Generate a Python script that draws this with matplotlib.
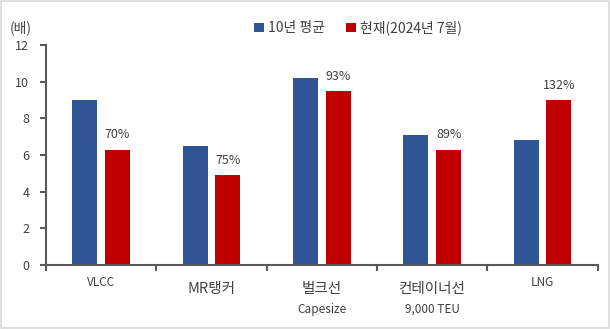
import matplotlib.pyplot as plt
import matplotlib.transforms as mtransforms
from matplotlib.patches import Rectangle
import numpy as np

plt.rcParams['font.family'] = ['Noto Sans CJK KR', 'DejaVu Sans']

# data
categories = ['VLCC', 'MR탱커', '벌크선', '컨테이너선', 'LNG']
sub_labels = ['', '', 'Capesize', '9,000 TEU', '']
avg_10y = [9.0, 6.5, 10.2, 7.1, 6.8]
current = [6.3, 4.9, 9.5, 6.3, 9.0]
pct_labels = ['70%', '75%', '93%', '89%', '132%']

blue = '#2F5597'
red = '#C00000'
axis_col = '#595959'
txt_col = '#404040'

fig = plt.figure(figsize=(6.10, 3.29), dpi=100)
ax = fig.add_axes([0.0754, 0.1945, 0.9046, 0.6685])

x = np.arange(len(categories))
w = 0.226
off = 0.148
ax.bar(x - off, avg_10y, width=w, color=blue, label='10년 평균')
ax.bar(x + off, current, width=w, color=red, label='현재(2024년 7월)')

for xi, v, s in zip(x, current, pct_labels):
    ax.annotate(s, (xi + off, v), xytext=(0, 6), textcoords='offset points',
                ha='center', va='bottom', fontsize=9, color=txt_col)

ax.set_xlim(-0.5, len(categories) - 0.5)
ax.set_ylim(0, 12)
ax.set_yticks(np.arange(0, 13, 2))
ax.tick_params(axis='y', labelsize=9, colors=txt_col, length=4, width=1.5,
               color=axis_col, pad=8)

# tick marks between categories, labels placed by hand
ax.set_xticks(np.arange(-0.5, len(categories), 1))
ax.set_xticklabels([])
ax.tick_params(axis='x', length=4, width=1.5, color=axis_col, direction='out')

trans = mtransforms.blended_transform_factory(ax.transData, fig.transFigure)
for xi, c, s in zip(x, categories, sub_labels):
    if c in ('VLCC', 'LNG'):
        ax.text(xi, 1 - 283 / 329, c, transform=trans, ha='center', va='center',
                fontsize=8.5, color=txt_col)
    else:
        ax.text(xi, 1 - 289 / 329, c, transform=trans, ha='center', va='center',
                fontsize=10.5, color=txt_col)
    if s:
        ax.text(xi, 1 - 309 / 329, s, transform=trans, ha='center', va='center',
                fontsize=8.5, color=txt_col)

for side in ['top', 'right']:
    ax.spines[side].set_visible(False)
for side in ['left', 'bottom']:
    ax.spines[side].set_color(axis_col)
    ax.spines[side].set_linewidth(1.5)

fig.text(10 / 610, 1 - 28 / 329, '(배)', fontsize=10, color=txt_col,
         ha='left', va='center')

ax.legend(loc='center', bbox_to_anchor=(358 / 610, 1.0 - 28 / 329), bbox_transform=fig.transFigure,
          ncol=2, frameon=False, fontsize=10, handlelength=0.7, handleheight=0.7,
          handletextpad=0.3, columnspacing=1.5, labelcolor=txt_col)

# light frame round the figure
fig.patches.append(Rectangle((0.002, 0.003), 0.996, 0.994, transform=fig.transFigure,
                             fill=False, edgecolor='#d9d9d9', linewidth=1.2))

fig.savefig('out.png', dpi=100)
